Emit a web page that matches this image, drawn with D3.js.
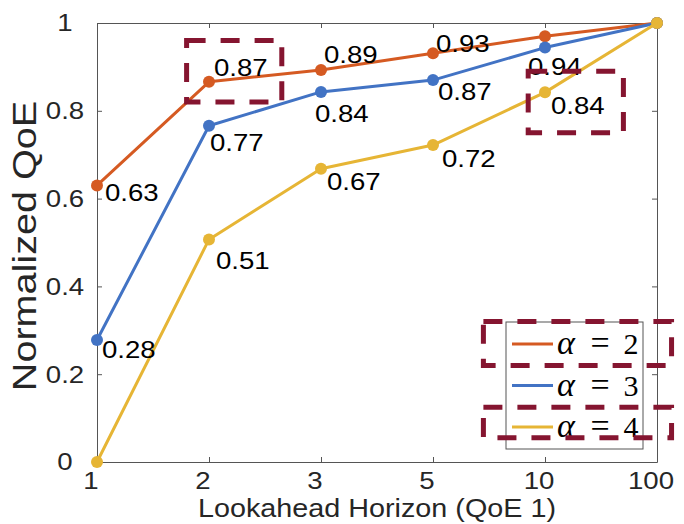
<!DOCTYPE html>
<html>
<head>
<meta charset="utf-8">
<script src="https://cdn.jsdelivr.net/npm/d3@7"></script>
<style>
  body { margin: 0; background: #fff; }
  svg { display: block; }
</style>
</head>
<body>
<div id="chart"></div>
<script>
// data
const categories = ['1', '2', '3', '5', '10', '100'];
const alpha2 = [0.63, 0.866, 0.893, 0.931, 0.97, 1];
const alpha3 = [0.278, 0.766, 0.843, 0.87, 0.944, 1];
const alpha4 = [0, 0.507, 0.668, 0.722, 0.842, 1];
const alphaNames = ['2', '3', '4'];
const yTicks = [0, 0.2, 0.4, 0.6, 0.8, 1];

// label nudges in px (null = no label)
const labelNudge = [
  [[8, 7], [5, -14], [3, -15], [3, -10], null, null],
  [[5, 10], [1, 17], [-6, 22], [5, 12], [-17, 19], null],
  [null, [7, 21], [6, 13], [9, 14], [6, 13], null]
];

// highlight boxes, in (category index, value) units
const boxes = [
  {i0: 0.8, i1: 1.65, v0: 0.96, v1: 0.82},
  {i0: 3.85, i1: 4.7, v0: 0.89, v1: 0.75},
  {i0: 3.45, i1: 5.13, v0: 0.32, v1: 0.22},
  {i0: 3.45, i1: 5.13, v0: 0.125, v1: 0.055}
];

const colors = ['#D55A22', '#4273C4', '#E6B535'];
const W = 684, H = 524;
const sx = 1.15; // figure text is a bit wide
const sans = '"Liberation Sans", Arial, Helvetica, sans-serif';
const serif = '"Liberation Serif", "Times New Roman", serif';

const svg = d3.select('#chart').append('svg')
  .attr('width', W).attr('height', H);

const x = d3.scalePoint().domain(categories).range([97, 657]);
const xi = d3.scaleLinear().domain([0, categories.length - 1]).range([97, 657]);
const y = d3.scaleLinear().domain([0, 1]).range([462, 23]);

const axisColor = '#555';

function styleAxis(g) {
  g.selectAll('path.domain').attr('stroke', axisColor).attr('stroke-width', 1);
  g.selectAll('.tick line').attr('stroke', axisColor).attr('stroke-width', 1);
  g.selectAll('.tick text').remove();
}

svg.append('g').attr('transform', 'translate(0,462)')
  .call(d3.axisBottom(x).tickSizeInner(-5).tickSizeOuter(0).tickFormat(''))
  .call(styleAxis);
svg.append('g').attr('transform', 'translate(0,23)')
  .call(d3.axisTop(x).tickSizeInner(-5).tickSizeOuter(0).tickFormat(''))
  .call(styleAxis);
svg.append('g').attr('transform', 'translate(97,0)')
  .call(d3.axisLeft(y).tickValues(yTicks).tickSizeInner(-5).tickSizeOuter(0).tickFormat(''))
  .call(styleAxis);
svg.append('g').attr('transform', 'translate(657,0)')
  .call(d3.axisRight(y).tickValues(yTicks).tickSizeInner(-5).tickSizeOuter(0).tickFormat(''))
  .call(styleAxis);

// tick labels
svg.append('g').selectAll('text')
  .data(yTicks).enter().append('text')
  .attr('transform', d => `translate(65,${y(d)}) scale(${sx},1)`)
  .attr('text-anchor', 'middle')
  .attr('dominant-baseline', 'central')
  .style('font-family', sans).style('font-size', '24px').style('fill', '#262626')
  .text(d => d3.format('~g')(d));

svg.append('g').selectAll('text')
  .data(categories).enter().append('text')
  .attr('transform', d => `translate(${x(d) - 6},481) scale(${sx},1)`)
  .attr('text-anchor', 'middle')
  .attr('dominant-baseline', 'central')
  .style('font-family', sans).style('font-size', '24px').style('fill', '#262626')
  .text(d => d);

// axis titles
svg.append('text')
  .attr('transform', `translate(377,509) scale(${sx},1)`)
  .attr('text-anchor', 'middle')
  .attr('dominant-baseline', 'central')
  .style('font-family', sans).style('font-size', '25px').style('fill', '#262626')
  .text('Lookahead Horizon (QoE 1)');

svg.append('text')
  .attr('transform', 'translate(25,246) rotate(-90) scale(1.2,1)')
  .attr('text-anchor', 'middle')
  .attr('dominant-baseline', 'central')
  .style('font-family', sans).style('font-size', '33px').style('fill', '#262626')
  .text('Normalized QoE');

// series
const series = [alpha2, alpha3, alpha4].map((vals, s) => ({
  name: alphaNames[s],
  color: colors[s],
  points: vals.map((v, i) => ({cat: categories[i], value: v, nudge: labelNudge[s][i]}))
}));

const line = d3.line().x(d => x(d.cat)).y(d => y(d.value));

const sg = svg.append('g').selectAll('g').data(series).enter().append('g');

sg.append('path')
  .attr('d', d => line(d.points))
  .attr('fill', 'none')
  .attr('stroke', d => d.color)
  .attr('stroke-width', 3)
  .attr('stroke-linejoin', 'round');

sg.selectAll('circle')
  .data(d => d.points.map(p => ({...p, color: d.color})))
  .enter().append('circle')
  .attr('cx', d => x(d.cat))
  .attr('cy', d => y(d.value))
  .attr('r', 6)
  .attr('fill', d => d.color);

// value labels
const labels = [];
series.forEach(s => s.points.forEach(p => { if (p.nudge) labels.push(p); }));

svg.append('g').selectAll('text')
  .data(labels).enter().append('text')
  .attr('transform', d => `translate(${x(d.cat) + d.nudge[0]},${y(d.value) + d.nudge[1]}) scale(${sx},1)`)
  .attr('dominant-baseline', 'central')
  .style('font-family', sans).style('font-size', '24px').style('fill', '#000')
  .text(d => d.value.toFixed(2));

// legend
const leg = svg.append('g');
leg.append('rect')
  .attr('x', 506).attr('y', 322).attr('width', 137).attr('height', 127)
  .attr('fill', '#fff').attr('stroke', axisColor).attr('stroke-width', 1);

const rows = leg.selectAll('g.row').data(series).enter().append('g')
  .attr('class', 'row')
  .attr('transform', (d, i) => `translate(0,${344 + i * 41.5})`);

rows.append('line')
  .attr('x1', 512).attr('x2', 553)
  .attr('stroke', d => d.color).attr('stroke-width', 3);

rows.append('text')
  .attr('x', 557).attr('y', 10)
  .style('font-family', serif).style('font-style', 'italic').style('font-size', '34px')
  .text('α');
rows.append('text')
  .attr('x', 600).attr('y', 10)
  .attr('text-anchor', 'middle')
  .style('font-family', serif).style('font-size', '34px')
  .text('=');
rows.append('text')
  .attr('x', 631).attr('y', 10)
  .attr('text-anchor', 'middle')
  .style('font-family', serif).style('font-size', '30px')
  .text(d => d.name);

// dashed highlight boxes
svg.append('g').selectAll('rect')
  .data(boxes).enter().append('rect')
  .attr('x', d => xi(d.i0))
  .attr('y', d => y(d.v0))
  .attr('width', d => xi(d.i1) - xi(d.i0))
  .attr('height', d => y(d.v1) - y(d.v0))
  .attr('fill', 'none')
  .attr('stroke', '#851530')
  .attr('stroke-width', 5)
  .attr('stroke-dasharray', '19,15');
</script>
</body>
</html>
